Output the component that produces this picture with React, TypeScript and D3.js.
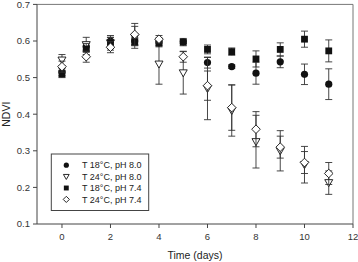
import React from "react";
import * as d3 from "d3";

const days = [0, 1, 2, 3, 4, 5, 6, 7, 8, 9, 10, 11];
const seriesNames = ["T 18°C, pH 8.0", "T 24°C, pH 8.0", "T 18°C, pH 7.4", "T 24°C, pH 7.4"];
const circleVals = [0.515, 0.585, 0.6, 0.6, 0.598, 0.598, 0.541, 0.53, 0.512, 0.543, 0.509, 0.482];
const circleErr = [0.01, 0.01, 0.01, 0.01, 0.01, 0.005, 0.015, 0.005, 0.03, 0.016, 0.028, 0.042];
const triangleVals = [0.548, 0.59, 0.595, 0.61, 0.537, 0.513, 0.47, 0.41, 0.325, 0.3, 0.262, 0.213];
const triangleErr = [0.015, 0.02, 0.02, 0.03, 0.055, 0.058, 0.085, 0.07, 0.072, 0.055, 0.05, 0.032];
const squareVals = [0.51, 0.578, 0.595, 0.597, 0.594, 0.597, 0.577, 0.571, 0.551, 0.577, 0.605, 0.573];
const squareErr = [0.01, 0.015, 0.015, 0.01, 0.01, 0.01, 0.012, 0.01, 0.022, 0.018, 0.022, 0.03];
const diamondVals = [0.53, 0.557, 0.583, 0.618, 0.605, 0.557, 0.478, 0.418, 0.359, 0.31, 0.268, 0.238];
const diamondErr = [0.015, 0.015, 0.015, 0.03, 0.01, 0.015, 0.04, 0.062, 0.048, 0.03, 0.03, 0.03];
const xTicks = [0, 2, 4, 6, 8, 10, 12];
const yTicks = [0.1, 0.2, 0.3, 0.4, 0.5, 0.6, 0.7];

const FONT = "Liberation Sans, Arial, sans-serif";

const L = 37, R = 353, T = 4.4, B = 224;

function Marker({ kind, x, y, s = 1 }: { kind: string; x: number; y: number; s?: number }) {
  const c = "#111";
  if (kind === "circle") return <circle cx={x} cy={y} r={3.6 * s} fill={c} />;
  if (kind === "square") return <rect x={x - 3.4 * s} y={y - 3.4 * s} width={6.8 * s} height={6.8 * s} fill={c} />;
  if (kind === "triangle")
    return (
      <path
        d={`M${x - 4 * s},${y - 3 * s} L${x + 4 * s},${y - 3 * s} L${x},${y + 4 * s} Z`}
        fill="#fff"
        stroke={c}
        strokeWidth={0.9}
      />
    );
  return (
    <path
      d={`M${x},${y - 4.3 * s} L${x + 4.3 * s},${y} L${x},${y + 4.3 * s} L${x - 4.3 * s},${y} Z`}
      fill="#fff"
      stroke={c}
      strokeWidth={0.9}
    />
  );
}

export default function App() {
  const x = d3.scaleLinear().domain([-1.03, 12]).range([L, R]);
  const y = d3.scaleLinear().domain([0.1, 0.7]).range([B, T]);
  const series = [
    { kind: "circle", vals: circleVals, err: circleErr },
    { kind: "triangle", vals: triangleVals, err: triangleErr },
    { kind: "square", vals: squareVals, err: squareErr },
    { kind: "diamond", vals: diamondVals, err: diamondErr },
  ];
  return (
    <svg width={358} height={262} style={{ position: "absolute", left: 0, top: 0 }} fontFamily={FONT}>
      <rect x={0} y={0} width={358} height={262} fill="#fff" />
      <line x1={L} y1={T} x2={R} y2={T} stroke="#777" strokeWidth={1} />
      <line x1={R} y1={T} x2={R} y2={B} stroke="#777" strokeWidth={1} />
      <line x1={L} y1={T} x2={L} y2={B} stroke="#444" strokeWidth={1} />
      <line x1={L} y1={B} x2={R} y2={B} stroke="#444" strokeWidth={1} />
      {yTicks.map((t) => (
        <g key={"y" + t}>
          <line x1={L - 4} x2={L} y1={y(t)} y2={y(t)} stroke="#444" />
          <text x={L - 7} y={y(t)} dy="0.35em" textAnchor="end" fontSize={9.5} fill="#333">
            {t.toFixed(1)}
          </text>
        </g>
      ))}
      {xTicks.map((t) => (
        <g key={"x" + t}>
          <line x1={x(t)} x2={x(t)} y1={B} y2={B + 4} stroke="#444" />
          <text x={x(t)} y={B + 16} textAnchor="middle" fontSize={9.5} fill="#333">
            {t}
          </text>
        </g>
      ))}
      <text x={(L + R) / 2} y={259} textAnchor="middle" fontSize={10.5} fill="#222">
        Time (days)
      </text>
      <text transform={`translate(10,${(T + B) / 2}) rotate(-90)`} textAnchor="middle" fontSize={10.5} fill="#222">
        NDVI
      </text>
      {series.map((s) => (
        <g key={s.kind}>
          {days.map((d, i) => {
            const cx = x(d);
            const y1 = y(s.vals[i] + s.err[i]);
            const y2 = y(s.vals[i] - s.err[i]);
            return (
              <g key={i} stroke="#333" strokeWidth={0.9}>
                <line x1={cx} x2={cx} y1={y1} y2={y2} />
                <line x1={cx - 3.5} x2={cx + 3.5} y1={y1} y2={y1} />
                <line x1={cx - 3.5} x2={cx + 3.5} y1={y2} y2={y2} />
              </g>
            );
          })}
          {days.map((d, i) => (
            <Marker key={i} kind={s.kind} x={x(d)} y={y(s.vals[i])} />
          ))}
        </g>
      ))}
      <rect x={51.3} y={154} width={97.4} height={56.5} fill="#fff" stroke="#444" strokeWidth={1} />
      {series.map((s, i) => (
        <g key={"lg" + i}>
          <Marker kind={s.kind} x={66.3} y={165.2 + i * 11.4} s={0.72} />
          <text x={82} y={165.2 + i * 11.4} dy="0.35em" fontSize={9} fill="#222">
            {seriesNames[i]}
          </text>
        </g>
      ))}
    </svg>
  );
}
